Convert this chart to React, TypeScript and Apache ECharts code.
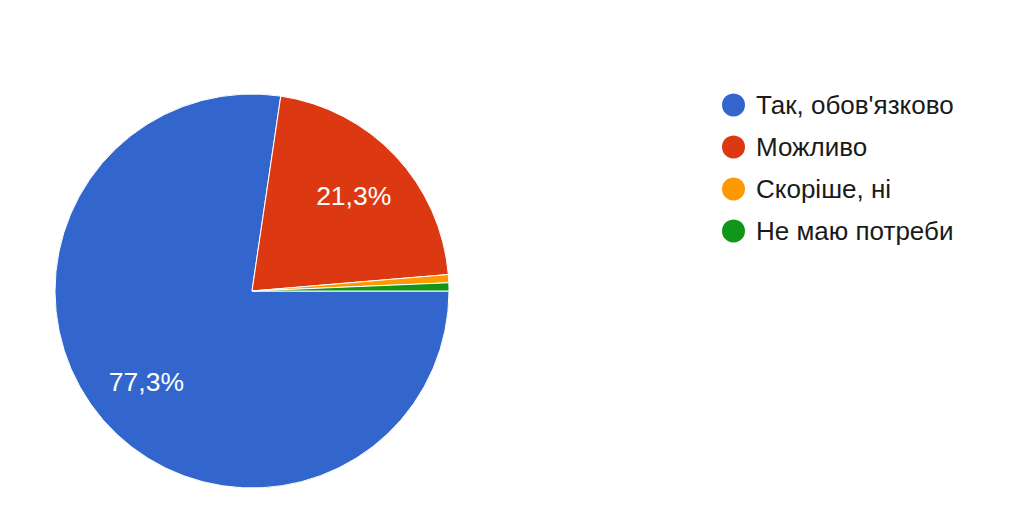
import React, { useEffect, useRef } from "react";
import * as echarts from "echarts";

// Survey answers and their response counts
const answers = ["Так, обов'язково", "Можливо", "Скоріше, ні", "Не маю потреби"];
const counts = [116, 32, 1, 1];
const colors = ["#3366cc", "#dc3912", "#ff9900", "#109618"];

const total = counts.reduce((a, b) => a + b, 0);
const fmtPercent = (v: number) => ((v / total) * 100).toFixed(1).replace(".", ",") + "%";

export default function App() {
  const ref = useRef<HTMLDivElement>(null);

  useEffect(() => {
    if (!ref.current) return;
    const chart = echarts.init(ref.current, undefined, { renderer: "svg" });
    const data = answers.map((name, i) => ({
      name,
      value: counts[i],
      itemStyle: { color: colors[i] },
    }));
    chart.setOption({
      animation: false,
      backgroundColor: "#ffffff",
      color: colors,
      legend: {
        orient: "vertical",
        left: 715,
        top: 86.5,
        icon: "circle",
        itemWidth: 25,
        itemHeight: 25,
        itemGap: 15,
        data: answers,
        selectedMode: false,
        textStyle: {
          fontFamily: "Liberation Sans, Arial, sans-serif",
          fontSize: 26,
          color: "#1a1a1a",
          lineHeight: 27,
          padding: [0, 0, 0, 5],
        },
      },
      series: [
        {
          type: "pie",
          center: [252, 291],
          radius: [0, 197],
          startAngle: 0,
          clockwise: true,
          avoidLabelOverlap: false,
          label: { show: false },
          labelLine: { show: false },
          itemStyle: { borderColor: "#ffffff", borderWidth: 1 },
          emphasis: { disabled: true },
          data,
        },
        {
          // percentage labels placed about two thirds of the way out
          type: "pie",
          center: [252, 291],
          radius: [76, 197],
          startAngle: 0,
          clockwise: true,
          silent: true,
          avoidLabelOverlap: false,
          legendHoverLink: false,
          itemStyle: { color: "rgba(0,0,0,0)", borderWidth: 0 },
          labelLine: { show: false },
          label: {
            show: true,
            position: "inside",
            color: "#ffffff",
            fontFamily: "Liberation Sans, Arial, sans-serif",
            fontSize: 26.5,
            formatter: (p: any) => (p.value / total >= 0.05 ? fmtPercent(p.value) : ""),
          },
          emphasis: { disabled: true },
          data: answers.map((name, i) => ({ name: name + " ", value: counts[i] })),
        },
      ],
    });
    return () => chart.dispose();
  }, []);

  return (
    <div
      ref={ref}
      style={{ position: "absolute", left: 0, top: 0, width: 1024, height: 505 }}
    />
  );
}
